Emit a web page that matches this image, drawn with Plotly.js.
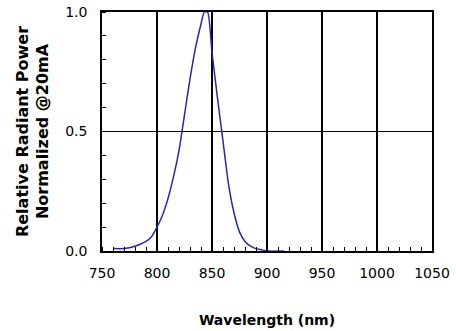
<!DOCTYPE html>
<html>
<head>
<meta charset="utf-8">
<script src="https://cdn.plot.ly/plotly-3.0.1.min.js"></script>
<style>html,body{margin:0;padding:0;background:#fff;}#chart{width:456px;height:331px;}</style>
</head>
<body>
<div id="chart"></div>
<script>
const wavelength = [760, 770, 780, 790, 795, 800, 805, 810, 815, 820, 825, 830, 835, 840, 843, 846, 850, 855, 860, 865, 870, 875, 880, 885, 890, 895, 900, 915];
const relPower   = [0.01, 0.01, 0.02, 0.04, 0.06, 0.10, 0.15, 0.22, 0.31, 0.42, 0.57, 0.72, 0.85, 0.95, 1.0, 1.0, 0.83, 0.64, 0.46, 0.28, 0.16, 0.08, 0.04, 0.02, 0.01, 0.005, 0.0, 0.0];
const xTicks = [750, 800, 850, 900, 950, 1000, 1050];
const yTicks = [0, 0.5, 1.0];
const yTickLabels = ['0.0', '0.5', '1.0'];

const font = 'DejaVu Sans, Arial, sans-serif';
const trace = {
  x: wavelength, y: relPower, type: 'scatter', mode: 'lines',
  line: {color: 'rgb(40,40,175)', width: 1.5, shape: 'spline', smoothing: 0.6},
  hoverinfo: 'none'
};
const layout = {
  width: 456, height: 331,
  margin: {l: 102, r: 24, t: 12, b: 80},
  paper_bgcolor: '#fff', plot_bgcolor: '#fff',
  showlegend: false,
  font: {family: font, color: '#000', size: 14},
  xaxis: {
    range: [750, 1050], tickmode: 'array', tickvals: xTicks, ticktext: xTicks.map(String),
    showgrid: true, gridcolor: '#000', gridwidth: 1.2,
    showline: true, linecolor: '#000', linewidth: 1.8, mirror: true,
    ticks: '', zeroline: false, ticklabelstandoff: 8,
    minor: {dtick: 10, tick0: 750, ticks: 'inside', ticklen: 4, tickcolor: '#000', tickwidth: 1, showgrid: false},
    title: {text: '<b>Wavelength (nm)</b>', font: {family: font, size: 14}, standoff: 36}
  },
  yaxis: {
    range: [0, 1.0], tickmode: 'array', tickvals: yTicks, ticktext: yTickLabels,
    showgrid: true, gridcolor: '#000', gridwidth: 1.2,
    showline: true, linecolor: '#000', linewidth: 1.8, mirror: true,
    ticks: '', zeroline: false, ticklabelstandoff: 10,
    minor: {dtick: 0.1, tick0: 0, ticks: 'inside', ticklen: 4, tickcolor: '#000', tickwidth: 1, showgrid: false},
    title: {text: '<b>Relative Radiant Power<br>Normalized @20mA</b>', font: {family: font, size: 16}, standoff: 12}
  }
};
Plotly.newPlot('chart', [trace], layout, {staticPlot: true, displayModeBar: false});
</script>
</body>
</html>
